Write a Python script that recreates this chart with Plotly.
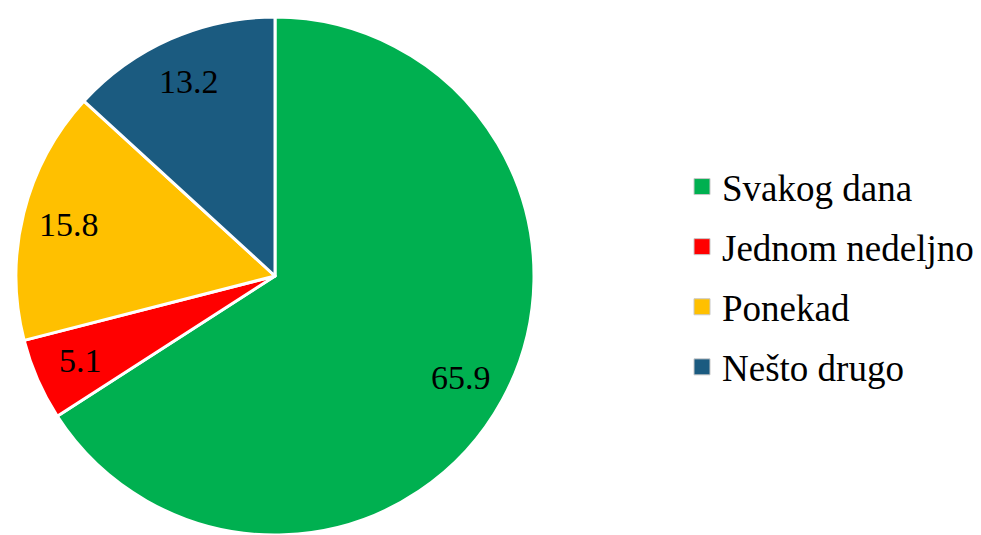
import math
import plotly.graph_objects as go

labels = ["Svakog dana", "Jednom nedeljno", "Ponekad", "Nešto drugo"]
values = [65.9, 5.1, 15.8, 13.2]
colors = ["#00B050", "#FF0000", "#FFC000", "#1B5B80"]

W, H = 981, 535
CX, CY, R = 275, 276, 259  # pie centre/radius in pixels
SERIF = "Liberation Serif"

fig = go.Figure()
fig.add_trace(go.Pie(
    labels=labels,
    values=values,
    sort=False,
    direction="clockwise",
    rotation=0,
    marker=dict(colors=colors, line=dict(color="white", width=3)),
    textinfo="none",
    domain=dict(x=[(CX - R) / W, (CX + R) / W], y=[(H - CY - R) / H, (H - CY + R) / H]),
    showlegend=False,
    hoverinfo="label+value",
))

# data labels placed along each slice's mid-angle
total = sum(values)
cum = 0.0
for v in values:
    mid = (cum + v / 2) / total * 2 * math.pi
    cum += v
    s, c = math.sin(mid), math.cos(mid)
    px = CX + 0.82 * R * s
    py = CY - 0.82 * R * c
    xanchor, xshift, yshift = "center", 0, 0
    if abs(s) < 0.35:  # keep label inside a narrow slice near the vertical
        xanchor = "right" if s < 0 else "left"
        xshift = -30 if s < 0 else 30
        yshift = -12 if c > 0 else 12
    fig.add_annotation(
        x=px / W, y=(H - py) / H, xref="paper", yref="paper",
        text=f"{v}", showarrow=False, xanchor=xanchor, yanchor="middle",
        xshift=xshift, yshift=yshift,
        font=dict(family=SERIF, size=34, color="black"),
    )

# legend proxies
for lab, col in zip(labels, colors):
    fig.add_trace(go.Scatter(
        x=[None], y=[None], mode="markers", name=lab, legendgroup=lab,
        marker=dict(symbol="square", size=16, color=col, line=dict(color="#c8c8c8", width=1)),
        showlegend=True, hoverinfo="skip",
    ))

fig.update_layout(
    width=W, height=H,
    margin=dict(l=0, r=0, t=0, b=0),
    paper_bgcolor="white",
    plot_bgcolor="white",
    xaxis=dict(visible=False),
    yaxis=dict(visible=False),
    showlegend=True,
    legend=dict(
        x=682 / W, y=(H - 277) / H, xanchor="left", yanchor="middle",
        traceorder="grouped", tracegroupgap=9,
        itemwidth=30,
        font=dict(family=SERIF, size=37, color="black"),
        bgcolor="rgba(0,0,0,0)",
    ),
)

fig.write_html("out.html", config={"displayModeBar": False},
               post_script="document.body.style.margin='0px';")
